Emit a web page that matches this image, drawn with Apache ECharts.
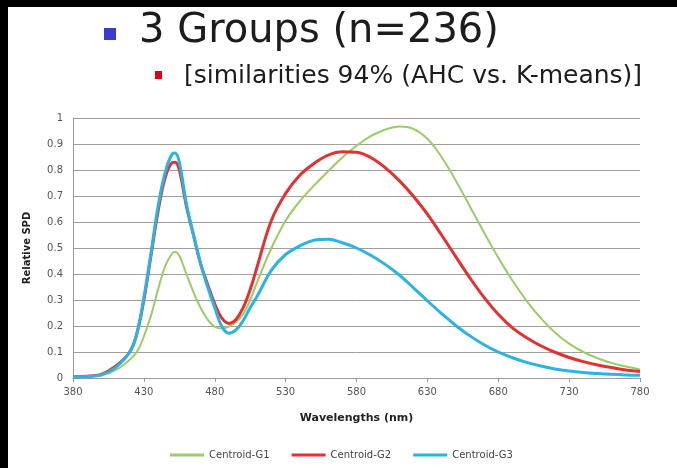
<!DOCTYPE html>
<html>
<head>
<meta charset="utf-8">
<script src="https://cdn.jsdelivr.net/npm/echarts@6/dist/echarts.min.js"></script>
<style>
html,body{margin:0;padding:0;background:#fff;}
#c{width:677px;height:468px;}
</style>
</head>
<body>
<div id="c"></div>
<script>
// Data
var wavelengths = [380,390,400,410,420,425,430,435,440,445,450,452,455,460,465,470,475,480,485,490,495,500,505,510,520,530,540,550,560,570,580,590,600,610,620,630,640,650,660,670,680,690,700,710,720,730,740,750,760,770,780];
var g1 = [0.005,0.006,0.01,0.03,0.07,0.10,0.16,0.24,0.34,0.43,0.48,0.485,0.47,0.40,0.33,0.27,0.225,0.197,0.19,0.198,0.215,0.245,0.30,0.37,0.50,0.605,0.68,0.74,0.795,0.848,0.893,0.93,0.955,0.967,0.958,0.92,0.85,0.76,0.66,0.56,0.463,0.375,0.297,0.23,0.175,0.132,0.10,0.076,0.058,0.044,0.033];
var g2 = [0.005,0.007,0.014,0.045,0.10,0.17,0.30,0.47,0.64,0.77,0.828,0.83,0.80,0.66,0.55,0.44,0.36,0.285,0.23,0.21,0.225,0.27,0.34,0.43,0.607,0.71,0.78,0.825,0.857,0.87,0.868,0.848,0.81,0.76,0.70,0.63,0.55,0.467,0.385,0.31,0.245,0.193,0.155,0.124,0.099,0.079,0.063,0.05,0.04,0.031,0.025];
var g3 = [0.005,0.006,0.012,0.04,0.10,0.17,0.31,0.48,0.66,0.79,0.862,0.865,0.83,0.67,0.55,0.44,0.35,0.27,0.198,0.172,0.185,0.22,0.27,0.315,0.415,0.475,0.508,0.53,0.534,0.52,0.50,0.472,0.438,0.397,0.348,0.297,0.248,0.202,0.162,0.128,0.10,0.078,0.06,0.046,0.035,0.027,0.021,0.017,0.014,0.012,0.011];
var seriesNames = ['Centroid-G1','Centroid-G2','Centroid-G3'];
var xTicks = {min:380, max:780, interval:50};
var yTicks = {min:0, max:1, interval:0.1};

function pairs(vals){ return wavelengths.map(function(w,i){ return [w, vals[i]]; }); }

var chart = echarts.init(document.getElementById('c'), null, {renderer:'canvas'});
var font = '"DejaVu Sans", Verdana, sans-serif';
chart.setOption({
  backgroundColor:'#ffffff',
  animation:false,
  graphic:[
    {type:'rect', shape:{x:0,y:0,width:677,height:7}, style:{fill:'#000'}, z:0},
    {type:'rect', shape:{x:0,y:0,width:8,height:468}, style:{fill:'#000'}, z:0},
    {type:'rect', shape:{x:104,y:28,width:12,height:12}, style:{fill:'#3a3acc'}},
    {type:'text', x:139, y:32, style:{text:'3 Groups (n=236)', font:'40px '+font, fill:'#1c1c1c', textVerticalAlign:'middle'}},
    {type:'rect', shape:{x:155,y:71,width:7,height:8}, style:{fill:'#e0001a'}},
    {type:'text', x:184, y:76, style:{text:'[similarities 94% (AHC vs. K-means)]', font:'25px '+font, fill:'#1c1c1c', textVerticalAlign:'middle'}}
  ],
  grid:{left:73, right:37, top:118, bottom:90},
  legend:{
    data:seriesNames, left:165, top:445, icon:'rect', itemWidth:34, itemHeight:3, itemGap:22,
    textStyle:{fontSize:10, color:'#444', fontFamily:font}
  },
  xAxis:{
    type:'value', min:xTicks.min, max:xTicks.max, interval:xTicks.interval,
    name:'Wavelengths (nm)', nameLocation:'middle', nameGap:35,
    nameTextStyle:{fontSize:11, fontWeight:'bold', color:'#222', fontFamily:font},
    axisLine:{show:true, lineStyle:{color:'#999', width:1}},
    axisTick:{show:true, length:4, lineStyle:{color:'#999'}},
    axisLabel:{fontSize:10, color:'#555', margin:9, fontFamily:font},
    splitLine:{show:false}
  },
  yAxis:{
    type:'value', min:yTicks.min, max:yTicks.max, interval:yTicks.interval,
    name:'Relative SPD', nameLocation:'middle', nameGap:41,
    nameTextStyle:{fontSize:10, fontWeight:'bold', color:'#222', fontFamily:font},
    axisLine:{show:true, lineStyle:{color:'#999', width:1}},
    axisTick:{show:false},
    axisLabel:{fontSize:10, color:'#555', margin:10, fontFamily:font},
    splitLine:{show:true, lineStyle:{color:'#a0a0a0', width:1}}
  },
  series:[
    {name:seriesNames[0], type:'line', data:pairs(g1), smooth:0.4, showSymbol:false, symbol:'none', lineStyle:{color:'#9ccc65', width:2}, itemStyle:{color:'#9ccc65'}},
    {name:seriesNames[1], type:'line', data:pairs(g2), smooth:0.4, showSymbol:false, symbol:'none', lineStyle:{color:'#e53030', width:3}, itemStyle:{color:'#e53030'}},
    {name:seriesNames[2], type:'line', data:pairs(g3), smooth:0.4, showSymbol:false, symbol:'none', lineStyle:{color:'#2ab4e4', width:3}, itemStyle:{color:'#2ab4e4'}}
  ]
});
</script>
</body>
</html>
